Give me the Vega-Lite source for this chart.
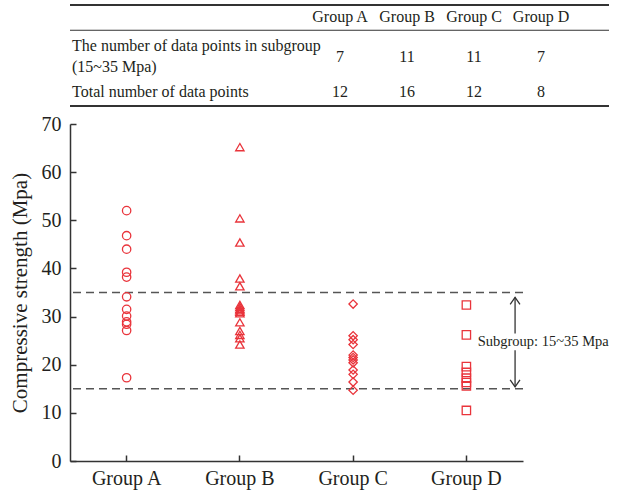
{
  "$schema": "https://vega.github.io/schema/vega-lite/v6.json",
  "bounds": "flush",
  "padding": {"left": 9, "top": 4, "right": 1, "bottom": 2},
  "spacing": 18,
  "config": {
    "view": {"stroke": null},
    "font": "Liberation Serif",
    "axis": {
      "domainColor": "#333333", "tickColor": "#333333", "labelColor": "#231f20", "titleColor": "#231f20",
      "labelFont": "Liberation Serif", "titleFont": "Liberation Serif", "grid": false,
      "tickSize": -6, "domainWidth": 1.5, "tickWidth": 1.5, "labelFontSize": 20, "titleFontSize": 21, "titleFontWeight": "normal"
    }
  },
  "vconcat": [
    {
      "width": 539,
      "height": 101,
      "layer": [
        {
          "data": {"values": [{"line": "h"}]},
          "mark": {"type": "rule", "color": "#333333", "strokeWidth": 2},
          "encoding": {"y": {"field": "line", "type": "nominal", "bandPosition": 0, "axis": null,
            "scale": {"type": "band", "domain": ["h", "r1a", "r1b", "r2"], "paddingInner": 0, "paddingOuter": 0}}}
        },
        {
          "data": {"values": [{"line": "r1a"}]},
          "mark": {"type": "rule", "color": "#333333", "strokeWidth": 1},
          "encoding": {"y": {"field": "line", "type": "nominal", "bandPosition": 0, "axis": null}}
        },
        {
          "data": {"values": [{"line": "r2"}]},
          "mark": {"type": "rule", "color": "#333333", "strokeWidth": 2},
          "encoding": {"y": {"field": "line", "type": "nominal", "bandPosition": 1, "axis": null}}
        },
        {
          "data": {"values": [
            {"col": "Group A", "line": "h"}, {"col": "Group B", "line": "h"},
            {"col": "Group C", "line": "h"}, {"col": "Group D", "line": "h"}
          ]},
          "mark": {"type": "text", "fontSize": 16, "color": "#231f20", "baseline": "middle", "align": "center", "dy": -1},
          "encoding": {
            "x": {"field": "col", "type": "nominal", "axis": null,
              "scale": {"type": "point", "domain": ["label", "s1", "s2", "s3", "Group A", "Group B", "Group C", "Group D"], "padding": 0.522, "align": 0.029}},
            "y": {"field": "line", "type": "nominal", "axis": null},
            "text": {"field": "col"}
          }
        },
        {
          "data": {"values": [
            {"col": "label", "line": "r1a", "text": "The number of data points in subgroup"}
          ]},
          "mark": {"type": "text", "fontSize": 16, "color": "#231f20", "baseline": "middle", "align": "left", "dy": 3},
          "encoding": {
            "x": {"field": "col", "type": "nominal", "axis": null},
            "y": {"field": "line", "type": "nominal", "axis": null},
            "text": {"field": "text"}
          }
        },
        {
          "data": {"values": [
            {"col": "label", "line": "r1b", "text": "(15~35 Mpa)"},
            {"col": "label", "line": "r2", "text": "Total number of data points"}
          ]},
          "mark": {"type": "text", "fontSize": 16, "color": "#231f20", "baseline": "middle", "align": "left", "dy": -1},
          "encoding": {
            "x": {"field": "col", "type": "nominal", "axis": null},
            "y": {"field": "line", "type": "nominal", "axis": null},
            "text": {"field": "text"}
          }
        },
        {
          "data": {"values": [
            {"col": "Group A", "line": "r1b", "n": 7}, {"col": "Group B", "line": "r1b", "n": 11},
            {"col": "Group C", "line": "r1b", "n": 11}, {"col": "Group D", "line": "r1b", "n": 7}
          ]},
          "mark": {"type": "text", "fontSize": 16, "color": "#231f20", "baseline": "middle", "align": "center", "dy": 1},
          "encoding": {
            "x": {"field": "col", "type": "nominal", "axis": null},
            "y": {"field": "line", "type": "nominal", "axis": null, "bandPosition": 0},
            "text": {"field": "n"}
          }
        },
        {
          "data": {"values": [
            {"col": "Group A", "line": "r2", "n": 12}, {"col": "Group B", "line": "r2", "n": 16},
            {"col": "Group C", "line": "r2", "n": 12}, {"col": "Group D", "line": "r2", "n": 8}
          ]},
          "mark": {"type": "text", "fontSize": 16, "color": "#231f20", "baseline": "middle", "align": "center", "dy": -1},
          "encoding": {
            "x": {"field": "col", "type": "nominal", "axis": null},
            "y": {"field": "line", "type": "nominal", "axis": null},
            "text": {"field": "n"}
          }
        }
      ]
    },
    {
      "width": 453,
      "height": 337,
      "layer": [
        {
          "data": {"values": [{"threshold": 35}, {"threshold": 15}]},
          "mark": {"type": "rule", "color": "#555555", "strokeWidth": 1.5, "strokeDash": [8, 5]},
          "encoding": {
            "y": {"field": "threshold", "type": "quantitative",
              "scale": {"domain": [0, 70], "nice": false},
              "axis": {"values": [0, 10, 20, 30, 40, 50, 60, 70], "title": "Compressive strength (Mpa)", "titlePadding": 11, "labelPadding": 15}}
          }
        },
        {
          "data": {"values": [
            {"group": "Group A", "value": 52.0}, {"group": "Group A", "value": 46.8}, {"group": "Group A", "value": 44.0},
            {"group": "Group A", "value": 39.2}, {"group": "Group A", "value": 38.2}, {"group": "Group A", "value": 34.1},
            {"group": "Group A", "value": 31.5}, {"group": "Group A", "value": 30.1}, {"group": "Group A", "value": 28.9},
            {"group": "Group A", "value": 28.4}, {"group": "Group A", "value": 27.1}, {"group": "Group A", "value": 17.3},
            {"group": "Group B", "value": 65.2}, {"group": "Group B", "value": 50.4}, {"group": "Group B", "value": 45.4},
            {"group": "Group B", "value": 37.9}, {"group": "Group B", "value": 36.3}, {"group": "Group B", "value": 32.4},
            {"group": "Group B", "value": 32.0}, {"group": "Group B", "value": 31.6}, {"group": "Group B", "value": 31.3},
            {"group": "Group B", "value": 31.0}, {"group": "Group B", "value": 30.7}, {"group": "Group B", "value": 28.8},
            {"group": "Group B", "value": 27.0}, {"group": "Group B", "value": 26.2}, {"group": "Group B", "value": 25.5},
            {"group": "Group B", "value": 24.2},
            {"group": "Group C", "value": 32.6}, {"group": "Group C", "value": 26.0}, {"group": "Group C", "value": 25.2},
            {"group": "Group C", "value": 24.2}, {"group": "Group C", "value": 22.0}, {"group": "Group C", "value": 21.5},
            {"group": "Group C", "value": 21.0}, {"group": "Group C", "value": 20.4}, {"group": "Group C", "value": 18.9},
            {"group": "Group C", "value": 18.0}, {"group": "Group C", "value": 16.4}, {"group": "Group C", "value": 14.7},
            {"group": "Group D", "value": 32.4}, {"group": "Group D", "value": 26.2}, {"group": "Group D", "value": 19.6},
            {"group": "Group D", "value": 18.4}, {"group": "Group D", "value": 17.2}, {"group": "Group D", "value": 16.3},
            {"group": "Group D", "value": 15.6}, {"group": "Group D", "value": 10.5}
          ]},
          "mark": {"type": "point", "filled": false, "strokeWidth": 1.3, "color": "#e9343b", "size": 70, "opacity": 1},
          "encoding": {
            "x": {"field": "group", "type": "nominal",
              "scale": {"type": "band", "domain": ["Group A", "Group B", "Group C", "Group D"], "paddingInner": 0, "paddingOuter": 0},
              "axis": {"title": null, "labelAngle": 0, "labelPadding": 13}},
            "y": {"field": "value", "type": "quantitative"},
            "shape": {"field": "group", "type": "nominal", "legend": null,
              "scale": {"domain": ["Group A", "Group B", "Group C", "Group D"], "range": ["circle", "triangle-up", "diamond", "square"]}}
          }
        },
        {
          "data": {"values": [{"group": "Group D", "from": 34.0, "to": 26.5}, {"group": "Group D", "from": 23.0, "to": 15.4}]},
          "mark": {"type": "rule", "color": "#333333", "strokeWidth": 1.3},
          "encoding": {
            "x": {"field": "group", "type": "nominal", "bandPosition": 0.93},
            "y": {"field": "from", "type": "quantitative"},
            "y2": {"field": "to"}
          }
        },
        {
          "data": {"values": [{"group": "Group D", "tip": 34.0}]},
          "mark": {"type": "point", "shape": "M-0.7,1L0,0L0.7,1", "size": 196, "filled": false, "stroke": "#333333", "strokeWidth": 1.3, "opacity": 1},
          "encoding": {
            "x": {"field": "group", "type": "nominal", "bandPosition": 0.93},
            "y": {"field": "tip", "type": "quantitative"}
          }
        },
        {
          "data": {"values": [{"group": "Group D", "tip": 15.4}]},
          "mark": {"type": "point", "shape": "M-0.7,-1L0,0L0.7,-1", "size": 196, "filled": false, "stroke": "#333333", "strokeWidth": 1.3, "opacity": 1},
          "encoding": {
            "x": {"field": "group", "type": "nominal", "bandPosition": 0.93},
            "y": {"field": "tip", "type": "quantitative"}
          }
        },
        {
          "data": {"values": [{"group": "Group D", "at": 24.7, "label": "Subgroup: 15~35 Mpa"}]},
          "mark": {"type": "text", "align": "left", "baseline": "middle", "fontSize": 14.5, "color": "#231f20"},
          "encoding": {
            "x": {"field": "group", "type": "nominal", "bandPosition": 0.6},
            "y": {"field": "at", "type": "quantitative"},
            "text": {"field": "label"}
          }
        }
      ]
    }
  ]
}
